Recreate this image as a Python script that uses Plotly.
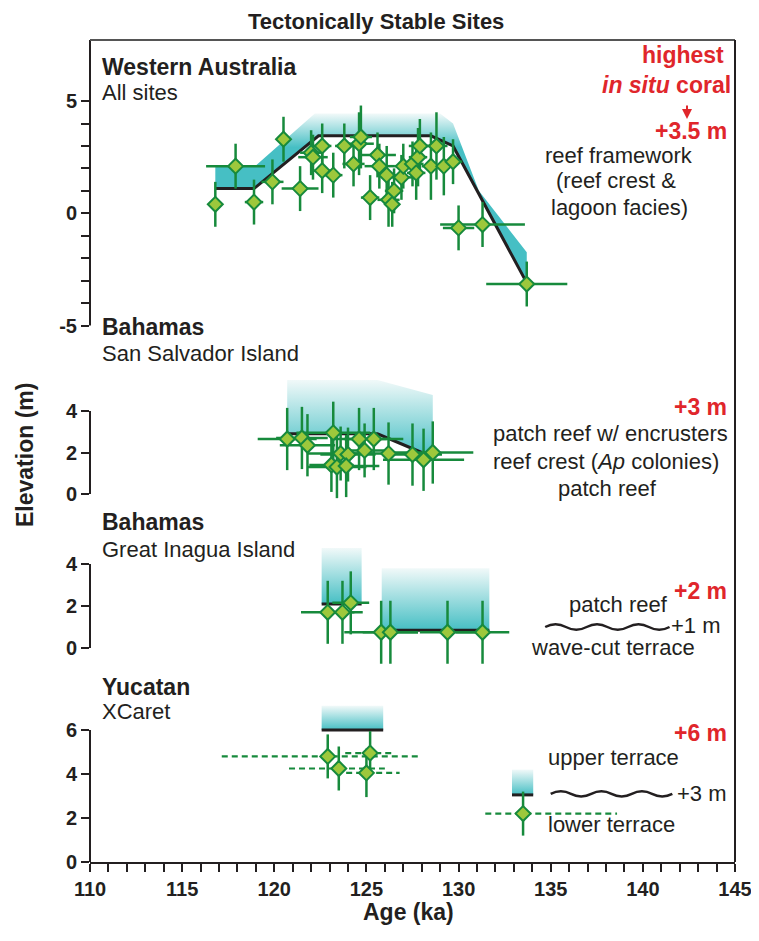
import plotly.graph_objects as go

# ---------------- data ----------------
# Western Australia (all sites)
wa_age = [116.8, 117.9, 118.9, 119.9, 120.5, 121.4, 122.0, 122.1, 122.6, 122.6, 123.2, 123.8,
          124.3, 124.6, 124.7, 125.2, 125.6, 125.7, 126.1, 126.2, 126.4, 126.5, 126.9, 127.0,
          127.5, 127.7, 127.8, 127.9, 128.5, 128.8, 129.2, 129.7, 130.0, 131.3, 133.7]
wa_elev = [0.4, 2.1, 0.5, 1.4, 3.3, 1.1, 2.7, 2.5, 3.0, 1.9, 1.7, 3.0,
           2.2, 3.1, 3.4, 0.7, 2.6, 2.1, 1.7, 0.6, 0.4, 1.0, 1.6, 2.1,
           2.2, 1.8, 2.5, 3.0, 2.1, 3.0, 2.1, 2.3, -0.65, -0.5, -3.15]
wa_xerr = [0.3, 1.6, 0.5, 0.6, 0.4, 1.0, 0.6, 0.8, 0.5, 0.5, 0.5, 0.5,
           0.6, 0.8, 0.6, 0.5, 1.0, 0.8, 0.5, 0.6, 0.4, 0.5, 0.8, 0.5,
           0.6, 0.5, 0.5, 0.6, 0.5, 0.6, 0.5, 0.5, 0.85, 2.3, 2.2]
wa_yerr = [1.0, 1.0, 1.0, 1.0, 1.0, 1.0, 1.0, 1.0, 1.0, 1.0, 1.0, 1.0,
           1.0, 1.4, 1.4, 1.0, 1.0, 1.0, 1.3, 1.2, 1.0, 1.0, 1.0, 1.0,
           1.0, 1.2, 1.3, 1.2, 1.5, 1.5, 1.3, 1.0, 1.0, 1.0, 1.0]
wa_env_age = [116.8, 119.0, 122.2, 129.0, 129.7, 131.1, 133.7, 133.7]
wa_env_top = [2.13, 2.13, 4.44, 4.44, 4.0, 1.0, -1.73, -3.1]
wa_line_age = [116.8, 118.9, 122.4, 128.5, 129.7, 133.7]
wa_line_elev = [1.1, 1.1, 3.45, 3.45, 3.0, -3.1]

# Bahamas, San Salvador Island
ss_age = [120.7, 121.5, 121.8, 123.2, 123.6, 124.0, 123.1, 123.4, 123.9, 124.6, 124.9, 125.4,
          126.2, 127.5, 128.1, 128.6]
ss_elev = [2.65, 2.7, 2.35, 2.95, 1.95, 1.9, 1.4, 1.3, 1.35, 2.65, 2.1, 2.65,
           1.95, 1.9, 1.65, 2.0]
ss_xerr = [1.6, 1.4, 1.5, 2.0, 1.8, 1.5, 1.2, 1.6, 1.8, 1.5, 1.3, 1.6, 2.0, 1.6, 2.2, 2.2]
ss_yerr = [1.5, 1.5, 1.5, 1.5, 1.3, 1.3, 1.3, 1.5, 1.5, 1.5, 1.3, 1.5, 1.5, 1.5, 1.5, 1.5]
ss_env_age = [120.7, 125.6, 128.6]
ss_env_top = [5.5, 5.5, 4.77]
ss_env_bottom = [2.9, 2.9, 1.8]
ss_line_age = [120.7, 125.6, 128.0]
ss_line_elev = [2.9, 2.9, 2.0]

# Bahamas, Great Inagua Island
gi_age = [122.9, 123.7, 124.15, 125.8, 126.3, 129.4, 131.3]
gi_elev = [1.7, 1.7, 2.15, 0.75, 0.75, 0.75, 0.75]
gi_xerr = [1.45, 1.1, 1.0, 2.0, 1.5, 1.5, 1.45]
gi_yerr = [1.5, 1.5, 1.5, 1.5, 1.5, 1.5, 1.5]
gi_box_start = [122.57, 125.83]
gi_box_end = [124.74, 131.67]
gi_box_base = [2.1, 0.85]
gi_box_top = [4.76, 3.8]

# Yucatan, XCaret
yu_age = [122.9, 123.5, 125.2, 125.0]
yu_elev = [4.8, 4.25, 4.95, 4.05]
yu_xminus = [5.75, 2.7, 1.35, 1.1]
yu_xplus = [5.0, 2.5, 1.25, 1.8]
yu_yerr = [1.0, 1.0, 1.0, 1.1]
yu_box_start = [122.57]
yu_box_end = [125.91]
yu_box_base = [6.0]
yu_box_top = [7.1]
# key symbol (lower terrace / upper terrace)
key_age = [133.5]
key_elev = [2.2]
key_xminus = [2.05]
key_xplus = [5.1]
key_yerr = [1.0]
key_box_start = [132.9]
key_box_end = [134.05]
key_box_base = [3.05]
key_box_top = [4.2]

x_ticks = list(range(110, 146))
x_ticktext = [str(v) if v % 5 == 0 else "" for v in x_ticks]

# ---------------- style ----------------
INK = "#231f20"
RED = "#e0262b"
TEAL = "#46bfc4"
FADE = "#f1f9f9"
GREEN = "#178a3c"
LIME = "#9dc83c"
SANS = "Liberation Sans, Arial, Helvetica, sans-serif"

# window is 759x941; the page body adds an 8px margin round the figure
OFF = 8
WIN_W, WIN_H = 759, 941
W, H = WIN_W - 2 * OFF, WIN_H - 2 * OFF
# plot-area edges in window pixels
L, R, T, B = 90, 735, 40, 862


def fx(px):
    return (px - L) / (R - L)


def fy(py):
    return (B - py) / (B - T)


# pixel layout of each stacked panel: zero line, px per metre, top, bottom
panels = {
    "y": dict(zero=213.3, ppm=22.45, top=40, bot=340),
    "y2": dict(zero=494, ppm=20.75, top=340, bot=508),
    "y3": dict(zero=648, ppm=21.0, top=508, bot=668),
    "y4": dict(zero=862, ppm=22.0, top=668, bot=862),
}

fig = go.Figure()


def band(xs, ys, yref, colorscale):
    fig.add_trace(go.Scatter(x=xs, y=ys, yaxis=yref, mode="lines", fill="toself",
                             line=dict(width=0, color="rgba(0,0,0,0)"),
                             fillgradient=dict(type="vertical", colorscale=colorscale),
                             hoverinfo="skip", showlegend=False))


def blackline(xs, ys, yref, w=3):
    fig.add_trace(go.Scatter(x=xs, y=ys, yaxis=yref, mode="lines",
                             line=dict(color=INK, width=w), hoverinfo="skip", showlegend=False))


def points(xs, ys, yref, xerr=None, yerr=None):
    ex = None
    if xerr is not None:
        ex = dict(type="data", array=xerr, color=GREEN, thickness=2.5, width=0, visible=True)
    fig.add_trace(go.Scatter(
        x=xs, y=ys, yaxis=yref, mode="markers",
        marker=dict(symbol="diamond", size=11.5, color=LIME, line=dict(color=GREEN, width=2)),
        error_x=ex,
        error_y=dict(type="data", array=yerr, color=GREEN, thickness=2.5, width=0),
        showlegend=False))


def boxes(starts, ends, bases, tops, yref):
    for s, e, b, t in zip(starts, ends, bases, tops):
        band([s, e, e, s], [b, b, t, t], yref, [[0, TEAL], [1, FADE]])
        blackline([s, e], [b, b], yref)


def dashed_xerr(xs, ys, xm, xp, yref):
    lx, ly = [], []
    for a, e, m, p in zip(xs, ys, xm, xp):
        lx += [a - m, a + p, None]
        ly += [e, e, None]
    fig.add_trace(go.Scatter(x=lx, y=ly, yaxis=yref, mode="lines",
                             line=dict(color=GREEN, width=2.2, dash="6px,4px"),
                             hoverinfo="skip", showlegend=False))


# Western Australia
band(wa_env_age + wa_line_age[::-1], wa_env_top + wa_line_elev[::-1], "y",
     [[0, TEAL], [0.8, TEAL], [1, FADE]])
blackline(wa_line_age, wa_line_elev, "y")
points(wa_age, wa_elev, "y", wa_xerr, wa_yerr)

# San Salvador
band(ss_env_age + ss_env_age[::-1], ss_env_top + ss_env_bottom[::-1], "y2",
     [[0, TEAL], [1, FADE]])
blackline(ss_line_age, ss_line_elev, "y2")
points(ss_age, ss_elev, "y2", ss_xerr, ss_yerr)

# Great Inagua
boxes(gi_box_start, gi_box_end, gi_box_base, gi_box_top, "y3")
points(gi_age, gi_elev, "y3", gi_xerr, gi_yerr)

# Yucatan
boxes(yu_box_start, yu_box_end, yu_box_base, yu_box_top, "y4")
dashed_xerr(yu_age, yu_elev, yu_xminus, yu_xplus, "y4")
points(yu_age, yu_elev, "y4", None, yu_yerr)
# key symbol
boxes(key_box_start, key_box_end, key_box_base, key_box_top, "y4")
dashed_xerr(key_age, key_elev, key_xminus, key_xplus, "y4")
points(key_age, key_elev, "y4", None, key_yerr)

# ---------------- axes ----------------
tickfont = dict(family=SANS, size=20, color=INK, weight="bold")


def yax(key, tickvals, ticktext):
    p = panels[key]
    return dict(domain=[fy(p["bot"]), fy(p["top"])],
                range=[(p["zero"] - p["bot"]) / p["ppm"], (p["zero"] - p["top"]) / p["ppm"]],
                anchor="x", tickmode="array", tickvals=tickvals, ticktext=ticktext,
                ticks="outside", ticklen=8, tickwidth=2, tickcolor=INK,
                showline=False, showgrid=False, zeroline=False, tickfont=tickfont,
                fixedrange=True, automargin=False)


def ypix(key, v):
    p = panels[key]
    return p["zero"] - v * p["ppm"]


layout_axes = dict(
    yaxis=yax("y", list(range(-5, 6)), ["-5", "", "", "", "", "0", "", "", "", "", "5"]),
    yaxis2=yax("y2", [0, 2, 4], ["0", "2", "4"]),
    yaxis3=yax("y3", [0, 2, 4], ["0", "2", "4"]),
    yaxis4=yax("y4", [0, 2, 4, 6], ["0", "2", "4", "6"]),
    xaxis=dict(domain=[0, 1], range=[110, 145], anchor="y4", tickmode="array",
               tickvals=x_ticks, ticktext=x_ticktext, ticks="outside", ticklen=8,
               tickwidth=2, tickcolor=INK, showline=True, linewidth=2, linecolor=INK,
               showgrid=False, zeroline=False, tickfont=tickfont, fixedrange=True,
               ticklabeloverflow="allow", automargin=False),
)

shapes = []
# left axis line segments
for key, lo, hi in [("y2", 0, 4), ("y3", 0, 4), ("y4", 0, 6)]:
    shapes.append(dict(type="line", xref="paper", yref="paper", x0=0, x1=0,
                       y0=fy(ypix(key, lo)), y1=fy(ypix(key, hi)),
                       line=dict(color=INK, width=2)))
shapes.append(dict(type="line", xref="paper", yref="paper", x0=0, x1=0,
                   y0=fy(ypix("y", -5)), y1=1, line=dict(color=INK, width=2)))
# frame
shapes.append(dict(type="line", xref="paper", yref="paper", x0=0, x1=1, y0=1, y1=1,
                   line=dict(color="#555555", width=2)))
shapes.append(dict(type="line", xref="paper", yref="paper", x0=1, x1=1, y0=0, y1=1,
                   line=dict(color=INK, width=2)))


def wavy(x0, x1, y, amp, n, yref):
    step = (x1 - x0) / (2 * n)
    d = f"M{x0},{y} Q{x0 + step / 2},{y + 2 * amp} {x0 + step},{y}"
    for i in range(2, 2 * n + 1):
        d += f" T{x0 + i * step},{y}"
    return dict(type="path", xref="x", yref=yref, path=d, line=dict(color=INK, width=2.5))


shapes.append(wavy(134.7, 141.45, 1.0, 0.13, 3, "y3"))
shapes.append(wavy(135.0, 141.6, 3.1, 0.12, 3, "y4"))

# ---------------- text ----------------
ann = []


def txt(text, px, py, size=22, color=INK, anchor="left", angle=0):
    ann.append(dict(text=text, x=fx(px), y=fy(py), xref="paper", yref="paper",
                    xanchor=anchor, yanchor="middle", showarrow=False, textangle=angle,
                    borderpad=0,
                    font=dict(family=SANS, size=size, color=color)))


txt("<b>Tectonically Stable Sites</b>", 376, 21, size=22, anchor="center")
txt("<b>Age (ka)</b>", 408, 912, size=23, anchor="center")
txt("<b>Elevation (m)</b>", 25, 455, size=23, anchor="center", angle=-90)

txt("<b>Western Australia</b>", 101, 67, size=23)
txt("All sites", 101, 93)
txt("<b>Bahamas</b>", 101, 327, size=23)
txt("San Salvador Island", 101, 353)
txt("<b>Bahamas</b>", 101, 522, size=23)
txt("Great Inagua Island", 101, 549)
txt("<b>Yucatan</b>", 101, 687, size=23)
txt("XCaret", 101, 711)

txt("<b>highest</b>", 725, 55, size=23, color=RED, anchor="right")
txt("<b><i>in situ</i> coral</b>", 732, 85, size=23, color=RED, anchor="right")
txt("<b>+3.5 m</b>", 728, 131, size=23, color=RED, anchor="right")
txt("reef framework", 619, 155, anchor="center")
txt("(reef crest &amp;", 616, 181, anchor="center")
txt("lagoon facies)", 619, 207, anchor="center")

txt("<b>+3 m</b>", 728, 407, size=23, color=RED, anchor="right")
txt("patch reef w/ encrusters", 610, 433, anchor="center")
txt("reef crest (<i>Ap</i> colonies)", 606, 462, anchor="center")
txt("patch reef", 607, 488, anchor="center")

txt("<b>+2 m</b>", 728, 591, size=23, color=RED, anchor="right")
txt("patch reef", 618, 604, anchor="center")
txt("+1 m", 670, 625)
txt("wave-cut terrace", 613, 647, anchor="center")

txt("<b>+6 m</b>", 728, 733, size=23, color=RED, anchor="right")
txt("upper terrace", 613, 757, anchor="center")
txt("+3 m", 676, 793)
txt("lower terrace", 611, 824, anchor="center")

# red arrow
ann.append(dict(x=fx(687), y=fy(119), xref="paper", yref="paper", ax=0, ay=-15,
                text="", showarrow=True, arrowhead=2, arrowsize=1, arrowwidth=2,
                arrowcolor=RED))

fig.update_layout(
    width=W, height=H,
    margin=dict(l=L - OFF, r=(OFF + W) - R, t=T - OFF, b=(OFF + H) - B, autoexpand=False),
    paper_bgcolor="white", plot_bgcolor="white",
    shapes=shapes, annotations=ann, showlegend=False,
    font=dict(family=SANS, color=INK),
    **layout_axes,
)

fig.write_html("out.html")
